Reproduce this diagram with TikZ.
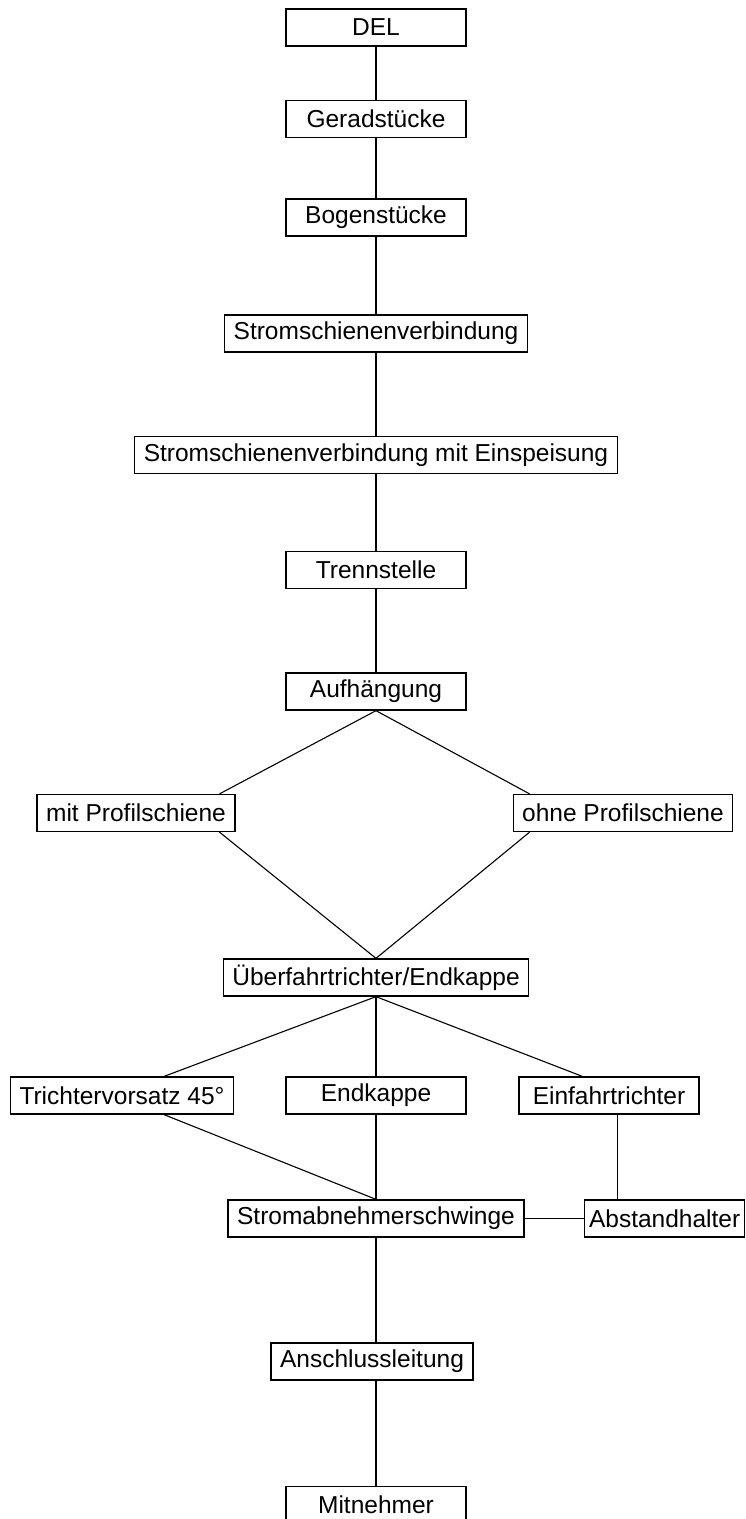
\documentclass[tikz,border=0pt]{standalone}
\usepackage{fontspec}
\setmainfont{Liberation Sans}
\usetikzlibrary{positioning}

\begin{document}
\begin{tikzpicture}[%
    x=1pt, y=-1pt,
    font=\fontsize{24.5}{29}\selectfont,
    part/.style={draw, line width=1.3pt, rectangle, minimum width=180pt,
      minimum height=37pt, inner xsep=9pt, inner ysep=0pt},
    link/.style={line width=1.1pt}
  ]
    \useasboundingbox (0,0) rectangle (746,1519);

    \node[part] (del)      at (376,27.5)   {DEL};
    \node[part] (gerad)    at (376,119)    {Geradstücke};
    \node[part] (bogen)    at (376,217.5)  {Bogenstücke};
    \node[part] (ssv)      at (376,333.5)  {Stromschienenverbindung};
    \node[part] (ssve)     at (376,455)    {Stromschienenverbindung mit Einspeisung};
    \node[part] (trenn)    at (376,570)    {Trennstelle};
    \node[part] (aufh)     at (376,691.5)  {Aufhängung};
    \node[part] (mitp)     at (136,813)    {mit Profilschiene};
    \node[part] (ohnep)    at (623,813)    {ohne Profilschiene};
    \node[part] (ueber)    at (376,977.5)  {Überfahrtrichter/Endkappe};
    \node[part] (trichter) at (122,1095.5) {Trichtervorsatz 45°};
    \node[part] (endk)     at (376,1095.5) {Endkappe};
    \node[part] (einf)     at (609,1095.5) {Einfahrtrichter};
    \node[part] (sabn)     at (376,1218.5) {Stromabnehmerschwinge};
    \node[part, anchor=west, minimum width=160pt, inner xsep=3pt] (abst) at (584,1218.5) {Abstandhalter};
    \node[part] (anschl)   at (372,1361.5) {Anschlussleitung};
    \node[part] (mitn)     at (376,1505)   {Mitnehmer};

    \path[link] (del)   edge (gerad)
                (gerad) edge (bogen)
                (bogen) edge (ssv)
                (ssv)   edge (ssve)
                (ssve)  edge (trenn)
                (trenn) edge (aufh);

    \draw[link] (aufh.south) -- ([xshift=-16pt]mitp.north east);
    \draw[link] (aufh.south) -- ([xshift=17pt]ohnep.north west);
    \draw[link] ([xshift=-16pt]mitp.south east) -- (ueber.north);
    \draw[link] ([xshift=17pt]ohnep.south west) -- (ueber.north);

    \draw[link] (ueber.south) -- ([xshift=-70pt]trichter.north east);
    \draw[link] (ueber.south) -- (endk.north);
    \draw[link] (ueber.south) -- ([xshift=64pt]einf.north west);

    \draw[link] ([xshift=-70pt]trichter.south east) -- (sabn.north);
    \draw[link] (endk.south) -- (sabn.north);
    \draw[link] ([xshift=99pt]einf.south west) coordinate (drop) -- (drop |- abst.north);
    \draw[link] (sabn.east) -- (abst.west);

    \draw[link] (sabn.south) -- (sabn.south |- anschl.north);
    \draw[link] (anschl.south -| mitn.north) -- (mitn.north);
\end{tikzpicture}
\end{document}
